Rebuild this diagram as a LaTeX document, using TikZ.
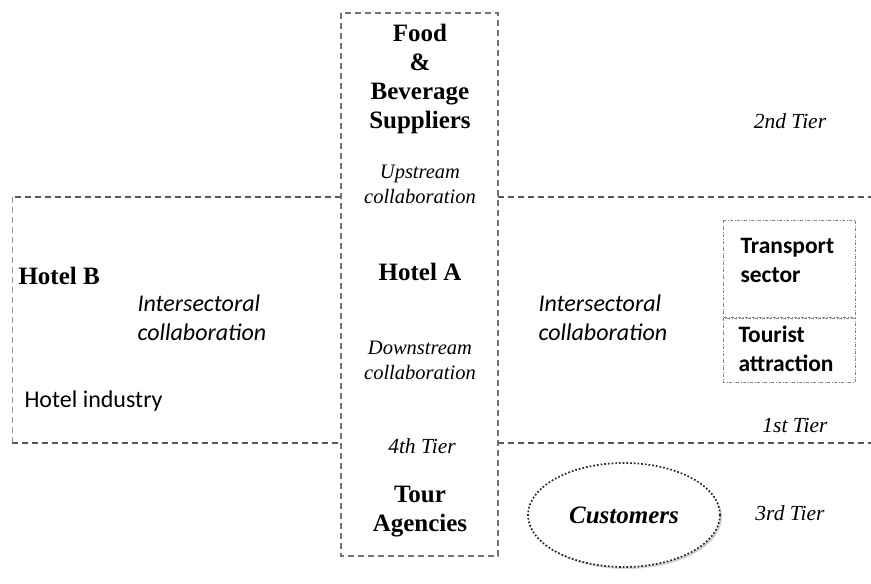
\documentclass[tikz,border=0pt]{standalone}
\usepackage{fontspec}
\setmainfont{Liberation Serif}
\newfontfamily\calibri{Carlito}
\usetikzlibrary{positioning,shapes.geometric,shadows}

\begin{document}
\begin{tikzpicture}[x=1pt,y=-1pt,
    frame/.style={draw=black!65,line width=1.2pt,dash pattern=on 6pt off 4pt},
    side/.style={draw=black!40,line width=0.9pt,dash pattern=on 6pt off 4pt},
    subbox/.style={draw=black!50,line width=0.7pt,dash pattern=on 3pt off 1.5pt on 1pt off 1.5pt},
    actor/.style={font=\bfseries\fontsize{25}{29}\selectfont,align=center},
    collab/.style={font=\itshape\fontsize{20.5}{25}\selectfont,align=center},
    tier/.style={font=\itshape\fontsize{21.5}{24}\selectfont},
    sector/.style={font=\calibri\itshape\fontsize{24}{29}\selectfont,align=left},
    plain/.style={font=\calibri\fontsize{24}{29}\selectfont,align=left},
    partner/.style={font=\calibri\bfseries\fontsize{23.5}{29}\selectfont,align=left}]
\useasboundingbox (0,0) rectangle (871,584);

% tiers
\draw[frame] (341,197) -- (12,197);
\draw[side] (12,197) -- (12,443);
\draw[frame] (12,443) -- (341,443);
\draw[frame] (498,197) -- (871,197);
\draw[frame] (498,443) -- (871,443);
\draw[frame,draw=black!55,line width=1.1pt] (341,13) rectangle (498,556);
\draw[subbox] (723,220) rectangle (855,317);
\draw[subbox] (723,318) rectangle (855,382);

% chain
\node[actor] (food) at (420,79) {Food\\\&\\Beverage\\Suppliers};
\node[collab] (up) at (420,184) {Upstream\\collaboration};
\node[actor] (hotelA) at (420,272) {Hotel A};
\node[collab] (down) at (420,360) {Downstream\\collaboration};
\node[tier] (fourth) at (422,446) {4th Tier};
\node[actor] (tour) at (420,512) {Tour\\Agencies};

% left
\node[actor,anchor=west] (hotelB) at (15,276) {Hotel B};
\node[sector,anchor=west] (interL) at (134,318) {Intersectoral\\collaboration};
\node[plain,anchor=west] (industry) at (21,401) {Hotel industry};

% right
\node[sector,anchor=west] (interR) at (535,318) {Intersectoral\\collaboration};
\node[partner,anchor=west] (transport) at (737,260) {Transport\\sector};
\node[partner,anchor=west] (tourist) at (735,349) {Tourist\\attraction};
\node[tier] (second) at (790,121) {2nd Tier};
\node[tier] (first) at (795,425) {1st Tier};
\node[tier] (third) at (790,513) {3rd Tier};
\node[ellipse,draw=black!85,line width=1.7pt,dotted,fill=white,
      minimum width=192pt,minimum height=104pt,
      drop shadow={opacity=0.35,shadow xshift=2pt,shadow yshift=-2pt},
      font=\bfseries\itshape\fontsize{25}{29}\selectfont] (customers) at (624,515) {Customers};
\end{tikzpicture}
\end{document}
